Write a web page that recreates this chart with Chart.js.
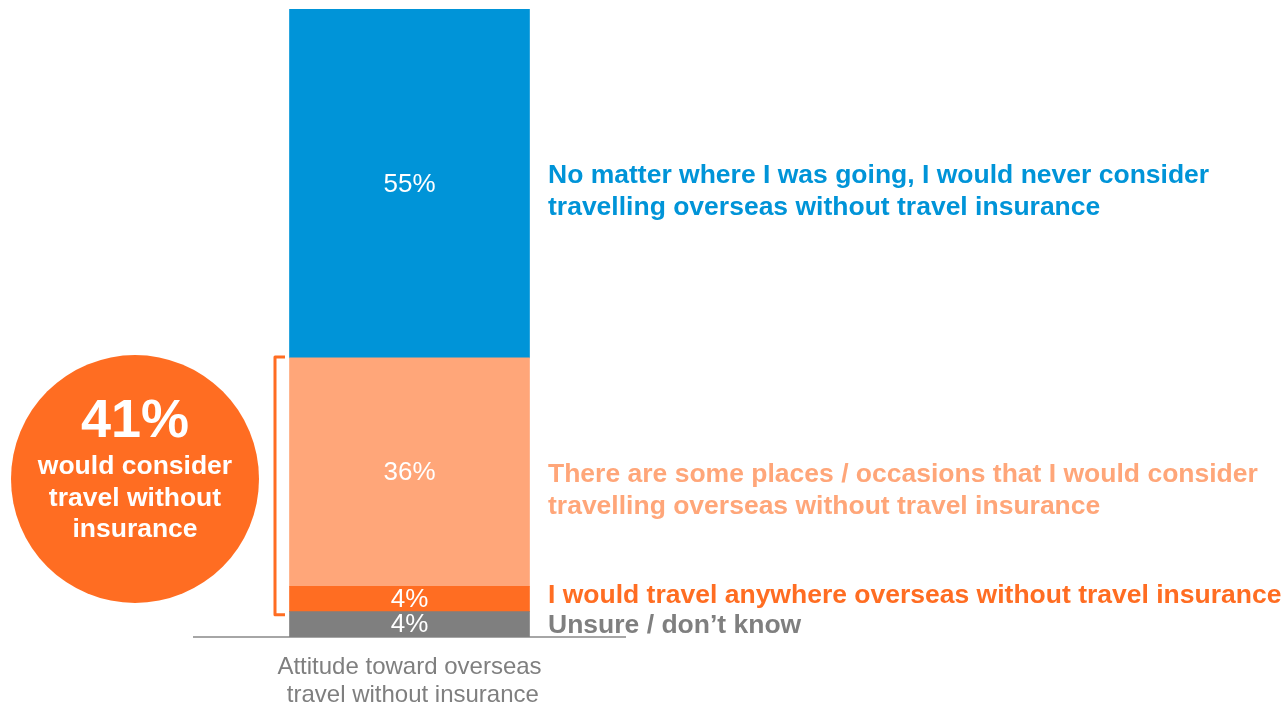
<!DOCTYPE html>
<html>
<head>
<meta charset="utf-8">
<script src="https://cdn.jsdelivr.net/npm/chart.js@4"></script>
<style>
  html, body { margin: 0; padding: 0; background: #fff; }
  #wrap { width: 1284px; height: 703px; position: relative; }
</style>
</head>
<body>
<div id="wrap"><canvas id="chart" width="1284" height="703"></canvas></div>
<script>
// one stacked column, bottom segment first
const categories = [["Attitude toward overseas", " travel without insurance"]];
const answers = [
  "Unsure / don't know",
  "I would travel anywhere overseas without travel insurance",
  "There are some places / occasions that I would consider travelling overseas without travel insurance",
  "No matter where I was going, I would never consider travelling overseas without travel insurance"
];
const shares = [4, 4, 36, 55];
const answerLines = [
  ["Unsure / don\u2019t know"],
  ["I would travel anywhere overseas without travel insurance"],
  ["There are some places / occasions that I would consider", "travelling overseas without travel insurance"],
  ["No matter where I was going, I would never consider", "travelling overseas without travel insurance"]
];
const colors = ["#7f7f7f", "#ff6d22", "#ffa679", "#0094d8"];
const considerShare = 41;
const considerText = ["would consider", "travel without", "insurance"];

const FONT = "'Liberation Sans', Arial, sans-serif";
const noteShift = [1, -3, 19, 8]; // nudges the side notes off the segment centres

const datasets = shares.map((v, i) => ({
  label: answers[i],
  data: [v],
  backgroundColor: colors[i],
  borderWidth: 0,
  barThickness: 240,
  stack: "s1",
}));

// white % labels inside each segment, coloured notes to the right
const segmentNotes = {
  id: "segmentNotes",
  afterDatasetsDraw(chart) {
    const ctx = chart.ctx;
    const area = chart.chartArea;
    ctx.save();
    chart.data.datasets.forEach((ds, i) => {
      const bar = chart.getDatasetMeta(i).data[0];
      const mid = (bar.y + bar.base) / 2;
      ctx.fillStyle = "#fff";
      ctx.font = "26px " + FONT;
      ctx.textAlign = "center";
      ctx.textBaseline = "middle";
      ctx.fillText(ds.data[0] + "%", bar.x, mid + 1);

      const lines = answerLines[i];
      const lh = 32;
      const top = mid + noteShift[i] - (lines.length - 1) * lh / 2;
      ctx.fillStyle = colors[i];
      ctx.font = "bold 26.5px " + FONT;
      ctx.textAlign = "left";
      lines.forEach((t, k) => ctx.fillText(t, area.right - 77, top + k * lh));
    });
    ctx.restore();
  },
};

// bracket round the two "would consider" segments and the 41% bubble
const considerCallout = {
  id: "considerCallout",
  afterDraw(chart) {
    const ctx = chart.ctx;
    const y = chart.scales.y;
    const yTop = y.getPixelForValue(shares[0] + shares[1] + shares[2]) - 1;
    const yBot = y.getPixelForValue(shares[0]) + 3;
    const bx = 275;
    ctx.save();
    ctx.strokeStyle = colors[1];
    ctx.lineWidth = 3;
    ctx.lineJoin = "round";
    ctx.beginPath();
    ctx.moveTo(bx + 10, yTop);
    ctx.lineTo(bx, yTop);
    ctx.lineTo(bx, yBot);
    ctx.lineTo(bx + 10, yBot);
    ctx.stroke();

    const cx = 135, cy = 479, r = 124;
    ctx.fillStyle = colors[1];
    ctx.beginPath();
    ctx.arc(cx, cy, r, 0, Math.PI * 2);
    ctx.fill();

    ctx.fillStyle = "#fff";
    ctx.textAlign = "center";
    ctx.textBaseline = "middle";
    ctx.font = "bold 54px " + FONT;
    ctx.fillText(considerShare + "%", cx, 422);
    ctx.font = "bold 26.5px " + FONT;
    considerText.forEach((t, k) => ctx.fillText(t, cx, 467 + k * 31.5));
    ctx.restore();
  },
};

new Chart(document.getElementById("chart"), {
  type: "bar",
  data: { labels: categories, datasets },
  options: {
    responsive: false,
    animation: false,
    layout: { padding: { left: 194, right: 659, top: 9, bottom: 0 } },
    plugins: { legend: { display: false }, tooltip: { enabled: false } },
    scales: {
      x: {
        stacked: true,
        grid: { display: false },
        border: { display: true, color: "#a6a6a6", width: 2 },
        ticks: {
          color: "#7f7f7f",
          font: { family: FONT, size: 24, lineHeight: 1.15 },
          padding: 9,
          maxRotation: 0,
        },
        afterFit(s) { s.height = 66; },
      },
      y: {
        stacked: true,
        display: false,
        min: 0,
        max: 99,
      },
    },
  },
  plugins: [segmentNotes, considerCallout],
});
</script>
</body>
</html>
